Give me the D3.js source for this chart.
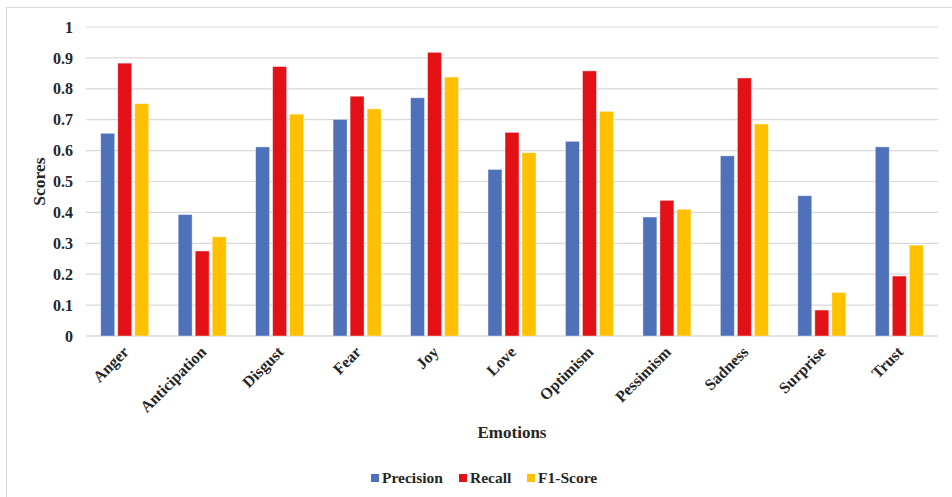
<!DOCTYPE html>
<html>
<head>
<meta charset="utf-8">
<script src="https://cdn.jsdelivr.net/npm/d3@7"></script>
<style>
  html, body { margin: 0; padding: 0; background: #fff; }
  svg { display: block; }
  text { font-family: "Liberation Serif", "Times New Roman", serif; font-weight: bold; fill: #262626; }
</style>
</head>
<body>
<svg id="chart" width="952" height="497"></svg>
<script>
// Per-emotion classification scores
const emotions = ["Anger", "Anticipation", "Disgust", "Fear", "Joy", "Love", "Optimism", "Pessimism", "Sadness", "Surprise", "Trust"];
const precision = [0.656, 0.393, 0.612, 0.701, 0.771, 0.539, 0.630, 0.385, 0.583, 0.454, 0.612];
const recall    = [0.883, 0.275, 0.872, 0.776, 0.918, 0.659, 0.858, 0.439, 0.835, 0.084, 0.194];
const f1Score   = [0.752, 0.321, 0.718, 0.735, 0.838, 0.593, 0.727, 0.410, 0.686, 0.141, 0.294];
const seriesNames = ["Precision", "Recall", "F1-Score"];
const yTicks = [0, 0.1, 0.2, 0.3, 0.4, 0.5, 0.6, 0.7, 0.8, 0.9, 1];

const colors = ["#4e71b9", "#e31015", "#ffc000"];
const seriesValues = [precision, recall, f1Score];

const svg = d3.select("#chart");
const margin = { left: 86, right: 14, top: 27, bottom: 161 };
const W = 952, H = 497;
const plotW = W - margin.left - margin.right;
const plotH = H - margin.top - margin.bottom;

// outer chart frame
svg.append("rect")
  .attr("x", 6.5).attr("y", 7.5)
  .attr("width", 960).attr("height", 520)
  .attr("fill", "none").attr("stroke", "#d9d9d9").attr("stroke-width", 1);

const g = svg.append("g").attr("transform", `translate(${margin.left},${margin.top})`);

const x = d3.scaleBand().domain(emotions).range([0, plotW]).paddingInner(0).paddingOuter(0);
const y = d3.scaleLinear().domain([0, 1]).range([plotH, 0]);
const xs = d3.scaleBand().domain(seriesNames).range([-24, 24]).paddingInner(0.18);

// horizontal gridlines
g.append("g")
  .selectAll("line")
  .data(yTicks)
  .join("line")
  .attr("x1", 0).attr("x2", plotW)
  .attr("y1", d => y(d)).attr("y2", d => y(d))
  .attr("stroke", "#d9d9d9")
  .attr("stroke-width", d => d === 0 ? 1.5 : 1.2);

// y axis labels
const yAxis = d3.axisLeft(y).tickValues(yTicks).tickSize(0).tickPadding(13)
  .tickFormat(d => d3.format("")(+d.toFixed(1)));
g.append("g").call(yAxis)
  .call(s => s.select(".domain").remove())
  .selectAll("text")
  .style("font-size", "16px")
  .attr("fill", "#262626");

// grouped bars
const rows = emotions.map((e, i) => ({ emotion: e, values: seriesNames.map((s, j) => ({ s, j, v: seriesValues[j][i] })) }));
const groups = g.append("g").selectAll("g")
  .data(rows)
  .join("g")
  .attr("transform", d => `translate(${x(d.emotion) + x.bandwidth() / 2},0)`);
groups.selectAll("rect")
  .data(d => d.values)
  .join("rect")
  .attr("x", d => xs(d.s))
  .attr("width", xs.bandwidth())
  .attr("y", d => y(d.v))
  .attr("height", d => y(0) - y(d.v))
  .attr("fill", d => colors[d.j])
  .attr("stroke", "#ffffff")
  .attr("stroke-opacity", 0.5)
  .attr("stroke-width", 0.8);

// x axis labels, rotated
const xAxis = d3.axisBottom(x).tickSize(0).tickPadding(0);
g.append("g").attr("transform", `translate(0,${plotH})`).call(xAxis)
  .call(s => s.select(".domain").remove())
  .selectAll("text")
  .style("font-size", "16px")
  .attr("fill", "#262626")
  .attr("text-anchor", "end")
  .attr("dy", null)
  .attr("transform", "translate(5,17) rotate(-45)");

// axis titles
g.append("text")
  .attr("x", plotW / 2).attr("y", 438 - margin.top)
  .attr("text-anchor", "middle")
  .style("font-size", "17px")
  .text("Emotions");

svg.append("text")
  .attr("transform", `translate(45,${margin.top + plotH / 2}) rotate(-90)`)
  .attr("text-anchor", "middle")
  .style("font-size", "17.5px")
  .text("Scores");

// legend
const legendX = [371, 459, 527];
const legend = svg.append("g").selectAll("g")
  .data(seriesNames)
  .join("g")
  .attr("transform", (d, i) => `translate(${legendX[i]},474)`);
legend.append("rect")
  .attr("width", 8).attr("height", 8)
  .attr("fill", (d, i) => colors[i]);
legend.append("text")
  .attr("x", 11).attr("y", 8.5)
  .style("font-size", "15.5px")
  .text(d => d);
</script>
</body>
</html>
